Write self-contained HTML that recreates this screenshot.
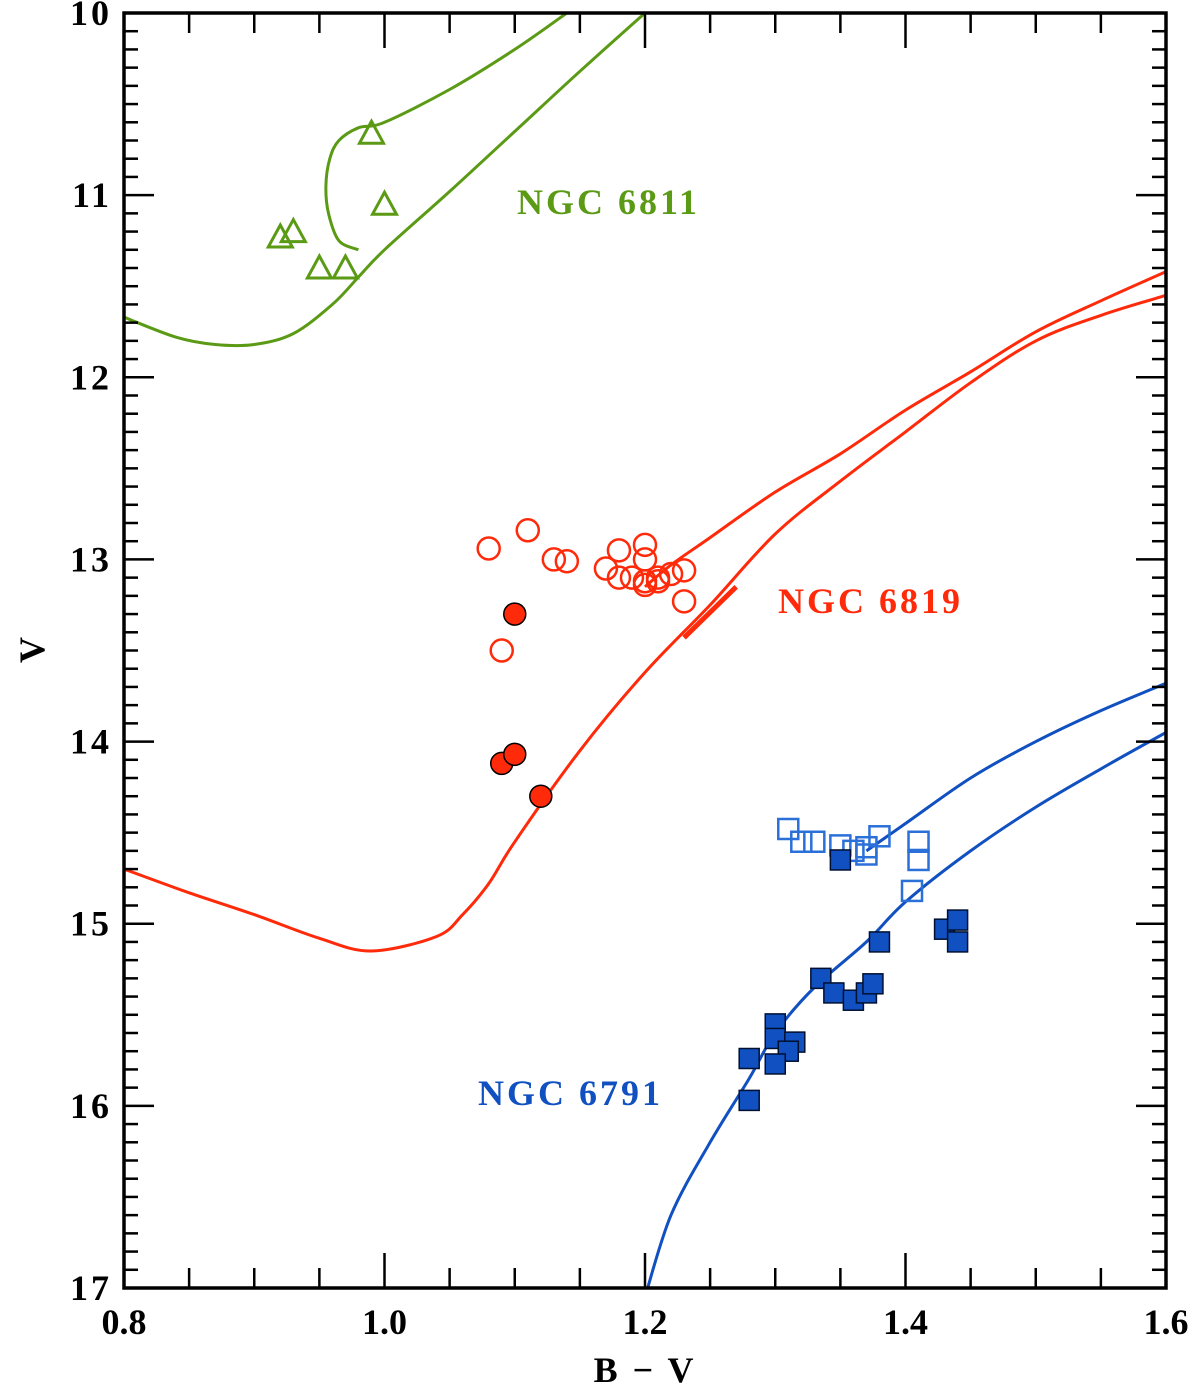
<!DOCTYPE html>
<html><head><meta charset="utf-8">
<style>
html,body{margin:0;padding:0;background:#fff;}
svg{display:block;}
text{font-family:"Liberation Serif",serif;font-weight:bold;}
</style></head>
<body>
<svg id="chart" width="1200" height="1387" viewBox="0 0 1200 1387" xmlns="http://www.w3.org/2000/svg">
<g id="iso"></g>
<g id="pts"></g>
<g id="axes"></g>
<text x="517" y="214" font-size="36" letter-spacing="3" fill="#5b9a14">NGC 6811</text>
<text x="778" y="613" font-size="36" letter-spacing="3" fill="#ff2a0a">NGC 6819</text>
<text x="478" y="1105" font-size="36" letter-spacing="3" fill="#1050c0">NGC 6791</text>
<text x="645" y="1382" font-size="36" letter-spacing="3" text-anchor="middle">B − V</text>
<text x="0" y="0" font-size="36" text-anchor="middle" transform="translate(44,650) rotate(-90)">V</text>
</svg>
<script>
const xTicks=[0.8,1.0,1.2,1.4,1.6];
const xTickLabels=["0.8","1.0","1.2","1.4","1.6"];
const yTicks=[10,11,12,13,14,15,16,17];
const yTickLabels=["10","11","12","13","14","15","16","17"];
const g6811LowBV=[0.8,0.84,0.87,0.9,0.93,0.96,0.98,1.0,1.05,1.1,1.15,1.2];
const g6811LowV=[11.67,11.78,11.82,11.82,11.76,11.6,11.45,11.3,10.98,10.65,10.32,10.0];
const g6811UpBV=[0.98,0.965,0.957,0.955,0.958,0.965,0.98,1.0,1.05,1.1,1.14];
const g6811UpV=[11.3,11.25,11.1,10.95,10.8,10.7,10.63,10.6,10.42,10.2,10.0];
const t6811BV=[0.99,1.0,0.92,0.93,0.95,0.97];
const t6811V=[10.66,11.05,11.23,11.2,11.4,11.4];
const r6819LowBV=[0.8,0.85,0.9,0.95,0.99,1.04,1.06,1.08,1.1,1.15,1.2,1.25,1.3,1.35,1.4,1.45,1.5,1.55,1.6];
const r6819LowV=[14.7,14.83,14.95,15.08,15.15,15.07,14.95,14.78,14.55,14.05,13.62,13.25,12.86,12.57,12.3,12.03,11.8,11.66,11.55];
const r6819UpBV=[1.2,1.22,1.25,1.3,1.35,1.4,1.45,1.5,1.55,1.6];
const r6819UpV=[13.15,13.03,12.88,12.63,12.42,12.18,11.97,11.75,11.58,11.42];
const r6819SegBV=[1.23,1.27];
const r6819SegV=[13.43,13.15];
const c6819OpenBV=[1.08,1.11,1.13,1.14,1.09,1.17,1.18,1.18,1.19,1.2,1.2,1.2,1.21,1.21,1.22,1.23,1.23,1.2];
const c6819OpenV=[12.94,12.84,13.0,13.01,13.5,13.05,12.95,13.1,13.1,12.92,13.0,13.12,13.1,13.12,13.08,13.06,13.23,13.14];
const c6819FillBV=[1.1,1.09,1.1,1.12];
const c6819FillV=[13.3,14.12,14.07,14.3];
const b6791LowBV=[1.2,1.22,1.25,1.28,1.3,1.33,1.37,1.4,1.45,1.5,1.55,1.6];
const b6791LowV=[17.05,16.6,16.2,15.85,15.6,15.35,15.1,14.88,14.6,14.36,14.15,13.95];
const b6791UpBV=[1.37,1.4,1.45,1.5,1.55,1.6];
const b6791UpV=[14.6,14.45,14.2,14.0,13.83,13.68];
const s6791OpenBV=[1.31,1.32,1.33,1.35,1.36,1.37,1.37,1.38,1.41,1.41,1.405];
const s6791OpenV=[14.48,14.55,14.55,14.57,14.6,14.62,14.58,14.52,14.55,14.65,14.82];
const s6791FillBV=[1.35,1.43,1.44,1.44,1.38,1.335,1.345,1.36,1.37,1.375,1.30,1.30,1.315,1.31,1.30,1.28,1.28];
const s6791FillV=[14.65,15.03,14.98,15.1,15.1,15.3,15.38,15.42,15.38,15.33,15.55,15.63,15.65,15.7,15.77,15.74,15.97];

const NS='http://www.w3.org/2000/svg';
const X0=124,X1=1166,Y0=13,Y1=1288;
function xs(b){return X0+(b-0.8)/(1.6-0.8)*(X1-X0);}
function ys(v){return Y0+(v-10)/(17-10)*(Y1-Y0);}
function mk(tag,attrs,parent){const e=document.createElementNS(NS,tag);for(const k in attrs)e.setAttribute(k,attrs[k]);parent.appendChild(e);return e;}
const iso=document.getElementById('iso'),pts=document.getElementById('pts'),axes=document.getElementById('axes');
const svg=document.getElementById('chart');
const clip=mk('clipPath',{id:'pc'},svg);mk('rect',{x:X0,y:Y0,width:X1-X0,height:Y1-Y0},clip);
iso.setAttribute('clip-path','url(#pc)');
function line(bv,v,col,w,name){
  const P=bv.map((b,i)=>[xs(b),ys(v[i])]);
  let d='M'+P[0][0].toFixed(1)+' '+P[0][1].toFixed(1);
  for(let i=0;i<P.length-1;i++){
    const p0=P[Math.max(0,i-1)],p1=P[i],p2=P[i+1],p3=P[Math.min(P.length-1,i+2)];
    const c1=[p1[0]+(p2[0]-p0[0])/6,p1[1]+(p2[1]-p0[1])/6],c2=[p2[0]-(p3[0]-p1[0])/6,p2[1]-(p3[1]-p1[1])/6];
    d+=` C${c1[0].toFixed(1)} ${c1[1].toFixed(1)} ${c2[0].toFixed(1)} ${c2[1].toFixed(1)} ${p2[0].toFixed(1)} ${p2[1].toFixed(1)}`;
  }
  const p=mk('path',{d:d,fill:'none',stroke:col,'stroke-width':w,'stroke-linejoin':'round'},iso);
  
  
}
const G='#5b9a14',R='#ff2a0a',B='#1050c0';
line(g6811LowBV,g6811LowV,G,3,'ngc6811-isochrone-lower');
line(g6811UpBV,g6811UpV,G,3,'ngc6811-isochrone-upper');
line(r6819LowBV,r6819LowV,R,3,'ngc6819-isochrone-lower');
line(r6819UpBV,r6819UpV,R,3,'ngc6819-isochrone-upper');
line(r6819SegBV,r6819SegV,R,5,'ngc6819-isochrone-segment');
line(b6791LowBV,b6791LowV,B,3,'ngc6791-isochrone-lower');
line(b6791UpBV,b6791UpV,B,3,'ngc6791-isochrone-upper');
t6811BV.forEach((b,i)=>{const x=xs(b),y=ys(t6811V[i]);
  const e=mk('polygon',{points:`${x-12},${y+10} ${x+12},${y+10} ${x},${y-12}`,fill:'none',stroke:G,'stroke-width':3},pts);
  
  });
c6819OpenBV.forEach((b,i)=>{
  const e=mk('circle',{cx:xs(b),cy:ys(c6819OpenV[i]),r:11,fill:'none',stroke:R,'stroke-width':2.5},pts);
  
  });
c6819FillBV.forEach((b,i)=>{
  const e=mk('circle',{cx:xs(b),cy:ys(c6819FillV[i]),r:11,fill:R,stroke:'#000','stroke-width':1.5},pts);
  
  });
s6791OpenBV.forEach((b,i)=>{
  const e=mk('rect',{x:xs(b)-10,y:ys(s6791OpenV[i])-10,width:20,height:20,fill:'none',stroke:'#2a70d8','stroke-width':2.5},pts);
  
  });
s6791FillBV.forEach((b,i)=>{
  const e=mk('rect',{x:xs(b)-10,y:ys(s6791FillV[i])-10,width:20,height:20,fill:B,stroke:'#001030','stroke-width':1.5},pts);
  
  });
const fr=mk('rect',{x:X0,y:Y0,width:X1-X0,height:Y1-Y0,fill:'none',stroke:'#000','stroke-width':3.5},axes);


for(let k=0;k<=16;k++){const b=0.8+k*0.05,x=xs(b),maj=(k%4===0);const L=maj?35:20;
  mk('line',{x1:x,y1:Y1,x2:x,y2:Y1-L,stroke:'#000','stroke-width':2.5},axes);
  mk('line',{x1:x,y1:Y0,x2:x,y2:Y0+L,stroke:'#000','stroke-width':2.5},axes);}
for(let k=0;k<=70;k++){const v=10+k*0.1,y=ys(v),maj=(k%10===0);const L=maj?30:14;
  mk('line',{x1:X0,y1:y,x2:X0+L,y2:y,stroke:'#000','stroke-width':2.5},axes);
  mk('line',{x1:X1,y1:y,x2:X1-L,y2:y,stroke:'#000','stroke-width':2.5},axes);}
xTicks.forEach((b,i)=>{const t=mk('text',{x:xs(b),y:Y1+46,'font-size':36,'text-anchor':'middle'},axes);t.textContent=xTickLabels[i];
  
  });
yTicks.forEach((v,i)=>{const t=mk('text',{x:X0-12,y:ys(v)+12,'font-size':36,'letter-spacing':3,'text-anchor':'end'},axes);t.textContent=yTickLabels[i];
  
  });
</script>
</body></html>
